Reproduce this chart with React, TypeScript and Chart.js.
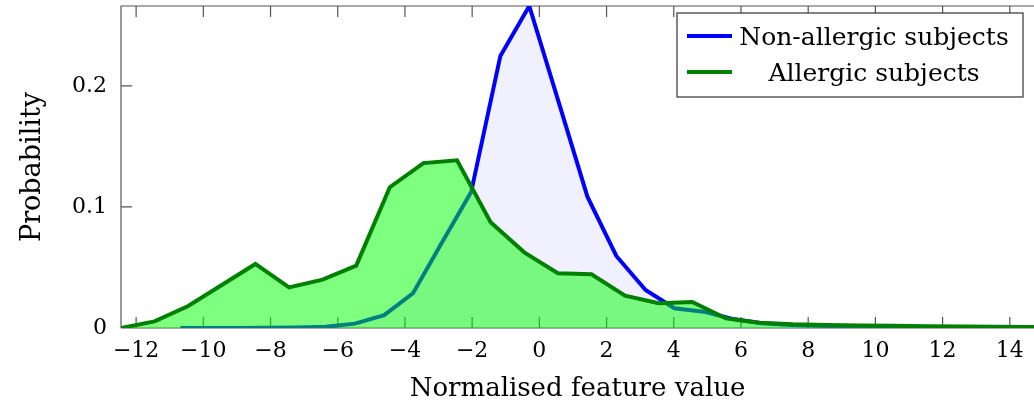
import React, { useEffect, useRef } from "react";
import { Chart, registerables } from "chart.js";

Chart.register(...registerables);

// ---- data ----
const nonAllergicX = [-10.68, -9.82, -8.95, -8.09, -7.22, -6.36, -5.49, -4.62, -3.76, -2.89, -2.03, -1.16, -0.3, 0.57, 1.43, 2.29, 3.16, 4.02, 4.89, 5.75, 6.62, 7.48, 8.35, 9.21, 10.08, 10.94, 11.81, 12.68, 13.54, 14.41, 15.27];
const nonAllergicY = [0, 0, 0, 0.0002, 0.0005, 0.001, 0.0036, 0.0106, 0.0287, 0.0711, 0.1123, 0.2248, 0.266, 0.187, 0.1085, 0.0595, 0.0314, 0.0163, 0.0135, 0.0075, 0.004, 0.0025, 0.0018, 0.0013, 0.001, 0.0009, 0.0008, 0.0007, 0.0006, 0.0005, 0.0005];

const allergicX = [-12.45, -11.45, -10.45, -9.45, -8.45, -7.45, -6.45, -5.45, -4.45, -3.45, -2.45, -1.45, -0.45, 0.55, 1.55, 2.55, 3.55, 4.55, 5.55, 6.55, 7.55, 8.55, 9.55, 10.55, 11.55, 12.55, 13.55, 14.55, 15.55];
const allergicY = [0, 0.0055, 0.0182, 0.0355, 0.0529, 0.0336, 0.04, 0.0515, 0.1163, 0.1362, 0.1385, 0.0873, 0.0625, 0.0452, 0.0444, 0.0267, 0.0204, 0.0215, 0.008, 0.0044, 0.003, 0.0025, 0.002, 0.0018, 0.0015, 0.0012, 0.001, 0.0008, 0.0007];

const seriesLabels = ["Non-allergic subjects", "Allergic subjects"];
const xTicks = [-12, -10, -8, -6, -4, -2, 0, 2, 4, 6, 8, 10, 12, 14];
const yTicks = [0, 0.1, 0.2];
const xTitle = "Normalised feature value";
const yTitle = "Probability";

const FONT = "'DejaVu Serif', serif";
const AXIS_COLOR = "#555555";

const fmtX = (v: number) => (v < 0 ? "\u2212" + Math.abs(v) : String(v));

const axesPlugin = {
  id: "boxAxes",
  beforeDatasetsDraw(chart: any) {
    const { ctx, chartArea: a, scales } = chart;
    const tl = 11;
    ctx.save();
    ctx.strokeStyle = AXIS_COLOR;
    ctx.lineWidth = 1.2;
    ctx.beginPath();
    ctx.moveTo(a.left, a.bottom);
    ctx.lineTo(a.left, a.top);
    ctx.lineTo(a.right, a.top);
    ctx.moveTo(a.left, a.bottom);
    ctx.lineTo(a.right, a.bottom);
    for (const v of xTicks) {
      const px = scales.x.getPixelForValue(v);
      ctx.moveTo(px, a.bottom);
      ctx.lineTo(px, a.bottom - tl);
      ctx.moveTo(px, a.top);
      ctx.lineTo(px, a.top + tl);
    }
    for (const v of yTicks) {
      const py = scales.y.getPixelForValue(v);
      ctx.moveTo(a.left, py);
      ctx.lineTo(a.left + tl, py);
    }
    ctx.stroke();
    ctx.restore();
  },
};

const legendPlugin = {
  id: "boxLegend",
  afterDraw(chart: any) {
    const { ctx, chartArea: a } = chart;
    const right = a.right - 11;
    const top = a.top + 7;
    const w = 346;
    const h = 84;
    const left = right - w;
    ctx.save();
    ctx.fillStyle = "#ffffff";
    ctx.fillRect(left, top, w, h);
    ctx.strokeStyle = "#333333";
    ctx.lineWidth = 1.2;
    ctx.strokeRect(left, top, w, h);
    ctx.font = `25px ${FONT}`;
    ctx.textAlign = "center";
    ctx.textBaseline = "alphabetic";
    chart.data.datasets.forEach((ds: any, i: number) => {
      const cy = top + 23 + i * 36;
      ctx.strokeStyle = ds.borderColor;
      ctx.lineWidth = 4;
      ctx.beginPath();
      ctx.moveTo(left + 10, cy);
      ctx.lineTo(left + 55, cy);
      ctx.stroke();
      ctx.fillStyle = "#000000";
      ctx.fillText(ds.label, left + 197, cy + 9);
    });
    ctx.restore();
  },
};

const noPad = (s: any) => {
  s.paddingTop = 0;
  s.paddingBottom = 0;
  s.paddingLeft = 0;
  s.paddingRight = 0;
};

export default function App() {
  const ref = useRef<HTMLCanvasElement>(null);
  useEffect(() => {
    document.body.style.margin = "0";
    const toPts = (xs: number[], ys: number[]) => xs.map((x, i) => ({ x, y: ys[i] }));
    const chart = new Chart(ref.current!, {
      type: "line",
      data: {
        datasets: [
          {
            label: seriesLabels[0],
            data: toPts(nonAllergicX, nonAllergicY),
            borderColor: "#0000ff",
            backgroundColor: "rgba(0,0,255,0.06)",
            borderWidth: 4,
            pointRadius: 0,
            fill: "origin",
            tension: 0,
            order: 2,
          },
          {
            label: seriesLabels[1],
            data: toPts(allergicX, allergicY),
            borderColor: "#008000",
            backgroundColor: "rgba(0,255,0,0.5)",
            borderWidth: 4,
            pointRadius: 0,
            fill: "origin",
            tension: 0,
            order: 1,
          },
        ],
      },
      options: {
        responsive: false,
        animation: false,
        devicePixelRatio: 1,
        layout: { padding: { top: 6, right: 0, left: 0, bottom: 0 } },
        plugins: {
          legend: { display: false },
          tooltip: { enabled: false },
        },
        scales: {
          x: {
            type: "linear",
            min: -12.45,
            max: 14.72,
            afterBuildTicks: (s: any) => {
              s.ticks = xTicks.map((v) => ({ value: v }));
            },
            afterFit: (s: any) => {
              s.height = 78;
              noPad(s);
            },
            grid: { display: false, drawTicks: false },
            border: { display: false },
            ticks: {
              font: { family: FONT, size: 22 },
              color: "#000",
              padding: 10,
              maxRotation: 0,
              autoSkip: false,
              callback: (v: any) => fmtX(Number(v)),
            },
            title: {
              display: true,
              text: xTitle,
              color: "#000",
              font: { family: FONT, size: 26 },
              padding: { top: 0, bottom: 1 },
            },
          },
          y: {
            type: "linear",
            min: 0,
            max: 0.266,
            afterBuildTicks: (s: any) => {
              s.ticks = yTicks.map((v) => ({ value: v }));
            },
            afterFit: (s: any) => {
              s.width = 121;
              noPad(s);
            },
            grid: { display: false, drawTicks: false },
            border: { display: false },
            ticks: {
              font: { family: FONT, size: 22 },
              color: "#000",
              padding: 14,
              callback: (v: any) => String(Number(v)),
            },
            title: {
              display: true,
              text: yTitle,
              color: "#000",
              font: { family: FONT, size: 27 },
              padding: { top: 17, bottom: 0 },
            },
          },
        },
      },
      plugins: [axesPlugin, legendPlugin],
    } as any);
    return () => chart.destroy();
  }, []);
  return (
    <div style={{ position: "absolute", left: 0, top: 0, width: 1034, height: 406, background: "#fff" }}>
      <canvas ref={ref} width={1034} height={406} style={{ display: "block", width: 1034, height: 406 }} />
    </div>
  );
}
